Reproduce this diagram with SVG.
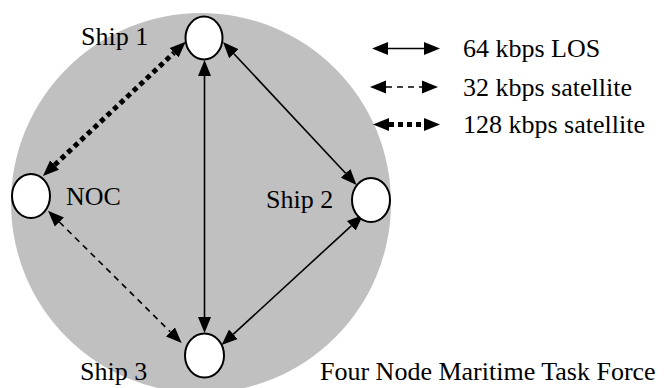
<svg xmlns="http://www.w3.org/2000/svg" width="665" height="388" viewBox="0 0 665 388">
  <style>
    .node { fill: #ffffff; stroke: #000000; stroke-width: 2; }
    .label { font-family: 'Liberation Serif', Tinos, 'Times New Roman', Times, 'DejaVu Serif', serif; font-size: 26px; fill: #000000; }
    .los { fill: none; stroke: #000000; stroke-width: 1.6; marker-start: url(#head); marker-end: url(#head); }
    .sat32 { fill: none; stroke: #000000; stroke-width: 1.6; stroke-dasharray: 6 5; marker-start: url(#head); marker-end: url(#head); }
    .sat128 { fill: none; stroke: #000000; stroke-width: 5; stroke-dasharray: 5 4; marker-start: url(#head); marker-end: url(#head); }
  </style>
  <defs>
    <marker id="head" markerUnits="userSpaceOnUse" markerWidth="17" markerHeight="14" refX="0" refY="7" orient="auto-start-reverse" viewBox="0 0 17 14">
      <path d="M0,0.5 L16,7 L0,13.5 z" fill="#000000"/>
    </marker>
  </defs>

  <!-- task force area -->
  <circle id="area" cx="201" cy="203" r="190" fill="#c0c0c0"/>

  <!-- links -->
  <g id="connectors">
    <line class="los" x1="204.5" y1="76" x2="204.5" y2="317"/>
    <line class="los" x1="233.9" y1="53.7" x2="345.6" y2="173.3"/>
    <line class="los" x1="351.3" y1="225.8" x2="233.4" y2="334.2"/>
    <line class="sat128" x1="54.6" y1="165" x2="174.1" y2="52.7"/>
    <line class="sat32" x1="59.4" y1="222" x2="170.3" y2="331.8"/>
  </g>

  <g id="ship1">
    <ellipse class="node" cx="204" cy="38" rx="18.5" ry="21.5"/>
    <text class="label" x="81" y="45">Ship 1</text>
  </g>
  <g id="noc">
    <ellipse class="node" cx="31" cy="196" rx="19" ry="22"/>
    <text class="label" x="66" y="205">NOC</text>
  </g>
  <g id="ship2">
    <ellipse class="node" cx="371" cy="200" rx="19" ry="22"/>
    <text class="label" x="266" y="208">Ship 2</text>
  </g>
  <g id="ship3">
    <ellipse class="node" cx="204.5" cy="355.5" rx="19.5" ry="22"/>
    <text class="label" x="80" y="380">Ship 3</text>
  </g>

  <!-- legend -->
  <g id="legend">
    <line class="los" x1="388" y1="48.5" x2="424" y2="48.5"/>
    <text class="label" x="463" y="57">64 kbps LOS</text>
    <line class="sat32" x1="386" y1="87" x2="422" y2="87"/>
    <text class="label" x="463" y="96">32 kbps satellite</text>
    <line class="sat128" x1="389" y1="124.5" x2="424" y2="124.5"/>
    <text class="label" x="463" y="133">128 kbps satellite</text>
  </g>

  <text id="caption" class="label" x="320" y="380">Four Node Maritime Task Force</text>
</svg>
